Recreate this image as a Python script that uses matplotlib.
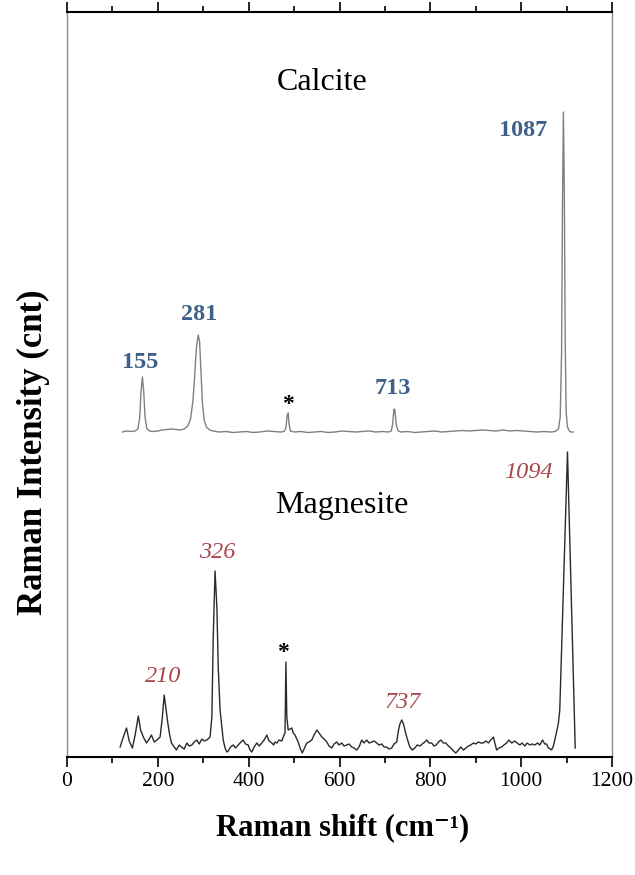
import matplotlib
matplotlib.use("Agg")
import matplotlib.pyplot as plt
from matplotlib.ticker import MultipleLocator
import numpy as np

# --- Calcite spectrum (Raman shift cm-1, intensity above its own baseline) ---
calcite_shift = [122, 130, 140, 150, 156, 160, 163, 166, 169, 172,
                 176, 182, 190, 200, 210, 220, 230, 240, 250, 258,
                 266, 272, 277, 281, 285, 289, 292, 295, 298, 302,
                 307, 314, 322, 335, 350, 365, 380, 395, 410, 425,
                 440, 455, 470, 478, 482, 485, 487, 489, 492, 500,
                 515, 530, 545, 560, 575, 590, 605, 620, 635, 650,
                 665, 680, 695, 708, 714, 717, 720, 722, 725, 729,
                 735, 750, 765, 780, 795, 810, 825, 840, 855, 870,
                 885, 900, 915, 930, 945, 960, 975, 990, 1005, 1020,
                 1035, 1050, 1065, 1075, 1082, 1086, 1089, 1091, 1093, 1095,
                 1097, 1099, 1102, 1106, 1110, 1115]
calcite_int = [0, 1, 0.5, 1, 3, 14, 40, 55, 40, 14,
               3, 1, 0.5, 1, 2, 2.5, 3, 2.5, 2, 3,
               6, 13, 30, 55, 85, 97, 90, 60, 30, 12,
               5, 2, 1, 0, 0.5, -0.5, 0, 0.5, -0.5, 0,
               1, 0.5, 0, 0.5, 4, 17, 19, 8, 1, 0,
               0.5, -0.5, 0, 0.5, -0.5, 0, 1, 0.5, 0, 0.5,
               1, 0, 0.5, 0, 1, 8, 23, 22, 7, 1,
               0, 0.5, -0.5, 0, 0.5, 1, 0, 0.5, 1, 1.5,
               1, 1.5, 2, 1.5, 1, 2, 1, 1.5, 1, 0.5,
               0, 0.5, 0, 0.5, 3, 15, 80, 230, 320, 240,
               90, 20, 5, 1, 0, 0]
calcite_offset = 325

# --- Magnesite spectrum (Raman shift cm-1, intensity) ---
magnesite_shift = [117, 124, 131, 137, 144, 150, 157, 162, 168, 175,
                   181, 186, 192, 198, 205, 210, 214, 218, 222, 226,
                   230, 236, 241, 247, 252, 258, 264, 269, 275, 280,
                   286, 291, 297, 302, 308, 315, 319, 322, 326, 330,
                   333, 337, 341, 344, 348, 352, 355, 360, 366, 371,
                   377, 383, 388, 393, 399, 403, 407, 412, 418, 423,
                   429, 434, 440, 445, 451, 455, 458, 462, 467, 473,
                   477, 480, 482, 484, 487, 491, 495, 498, 502, 506,
                   509, 514, 518, 523, 528, 533, 539, 544, 550, 555,
                   561, 566, 572, 577, 583, 588, 594, 599, 605, 610,
                   616, 621, 627, 632, 638, 643, 649, 654, 660, 665,
                   671, 676, 682, 687, 693, 698, 704, 709, 715, 720,
                   726, 730, 733, 737, 741, 744, 748, 752, 755, 760,
                   766, 771, 777, 782, 788, 792, 797, 803, 808, 813,
                   818, 823, 829, 834, 840, 845, 851, 856, 862, 867,
                   873, 878, 884, 889, 895, 900, 906, 911, 917, 922,
                   928, 933, 939, 942, 946, 951, 957, 962, 968, 973,
                   979, 983, 986, 991, 997, 1002, 1008, 1013, 1019, 1024,
                   1030, 1036, 1041, 1047, 1052, 1056, 1060, 1064, 1067, 1071,
                   1074, 1078, 1082, 1085, 1102, 1119]
magnesite_int = [10, 20, 29, 16, 9, 22, 41, 27, 20, 14,
                 18, 22, 15, 17, 20, 40, 62, 48, 34, 22,
                 14, 10, 7, 12, 10, 8, 14, 11, 12, 15,
                 17, 13, 18, 16, 17, 20, 40, 120, 186, 150,
                 90, 47, 30, 17, 9, 5, 6, 10, 12, 9,
                 12, 15, 17, 13, 12, 7, 5, 10, 14, 11,
                 14, 17, 22, 16, 14, 12, 15, 14, 17, 16,
                 21, 24, 95, 40, 27, 28, 29, 24, 22, 18,
                 15, 8, 4, 9, 14, 15, 17, 22, 27, 24,
                 20, 18, 15, 11, 9, 13, 15, 12, 14, 11,
                 12, 13, 10, 9, 7, 10, 17, 14, 17, 14,
                 15, 16, 14, 12, 13, 10, 10, 8, 9, 13,
                 15, 27, 33, 37, 33, 27, 20, 14, 10, 7,
                 9, 12, 11, 13, 15, 17, 14, 14, 11, 12,
                 15, 17, 14, 14, 11, 9, 6, 4, 7, 10,
                 7, 9, 11, 12, 14, 13, 15, 14, 14, 16,
                 14, 17, 20, 14, 7, 9, 10, 12, 14, 17,
                 14, 15, 16, 14, 12, 14, 11, 14, 12, 13,
                 12, 14, 12, 17, 13, 13, 9, 8, 7, 11,
                 17, 25, 34, 47, 305, 9]

# --- peak annotations (shift, height) ---
calcite_labels = ["155", "281", "713", "1087"]
calcite_label_x = [161, 291, 717, 1005]
calcite_label_y = [395, 442, 369, 627]
magnesite_labels = ["210", "326", "737", "1094"]
magnesite_label_x = [211, 330, 740, 1017]
magnesite_label_y = [80, 205, 55, 284]
star_x = [487, 475]
star_y = [352, 104]

plt.rcParams["font.family"] = ["Liberation Serif", "DejaVu Serif"]

fig = plt.figure(figsize=(6.35, 8.75), dpi=100)
ax = fig.add_axes([67 / 635, 118 / 875, 545 / 635, 745 / 875])

ax.plot(calcite_shift, np.array(calcite_int) + calcite_offset, color="#808080", lw=1.0)
ax.plot(magnesite_shift, magnesite_int, color="#2a2a2a", lw=1.0)

for t, x, y in zip(calcite_labels, calcite_label_x, calcite_label_y):
    ax.text(x, y, t, color="#3f6189", fontsize=17.5, fontweight="bold",
            ha="center", va="center")
for t, x, y in zip(magnesite_labels, magnesite_label_x, magnesite_label_y):
    ax.text(x, y, t, color="#a8474c", fontsize=17.5, style="italic",
            ha="center", va="center")
for x, y in zip(star_x, star_y):
    ax.text(x, y, "*", color="black", fontsize=17, fontweight="bold",
            ha="center", va="center")

ax.text(561, 675, "Calcite", fontsize=23, ha="center", va="center")
ax.text(605, 252, "Magnesite", fontsize=23, ha="center", va="center")

ax.set_xlim(0, 1200)
ax.set_ylim(0, 745)
ax.xaxis.set_major_locator(MultipleLocator(200))
ax.xaxis.set_minor_locator(MultipleLocator(100))
ax.tick_params(axis="x", which="both", direction="out", top=True, bottom=True,
               labelsize=15.5, width=1.2)
ax.tick_params(axis="x", which="major", length=7)
ax.tick_params(axis="x", which="minor", length=4)
ax.set_yticks([])

for side in ["top", "bottom"]:
    ax.spines[side].set_color("black")
    ax.spines[side].set_linewidth(1.5)
for side in ["left", "right"]:
    ax.spines[side].set_color("#8a8a8a")
    ax.spines[side].set_linewidth(1.0)

ax.set_xlabel("Raman shift (cm\u207b\u00b9)", fontsize=22, fontweight="bold")
ax.xaxis.set_label_coords(0.506, -0.076)
ax.set_ylabel("Raman Intensity (cnt)", fontsize=25, fontweight="bold")
ax.yaxis.set_label_coords(-0.031, 0.409)

fig.savefig("out.png", dpi=100)
